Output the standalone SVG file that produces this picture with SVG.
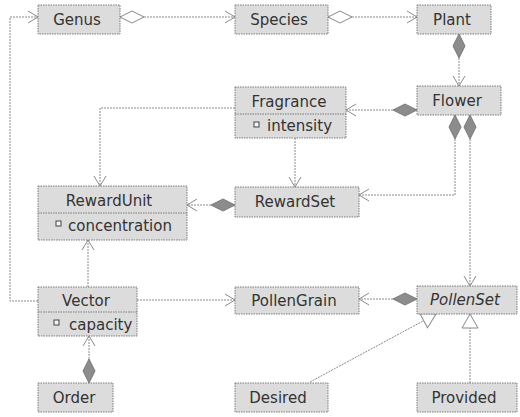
<svg xmlns="http://www.w3.org/2000/svg" width="520" height="417" viewBox="0 0 520 417">
<style>
.box{fill:#dcdcdc;stroke:#7a7a7a;stroke-width:1;stroke-dasharray:1.5 1}
.div{stroke:#7a7a7a;stroke-width:1;stroke-dasharray:1.5 1;fill:none}
.t{font-family:"DejaVu Sans",sans-serif;font-size:15px;fill:#333333;text-anchor:middle}
.a{font-family:"DejaVu Sans",sans-serif;font-size:15px;fill:#333333}
.it{font-style:italic}
.ic{fill:#f4f4f4;stroke:#444;stroke-width:1}
.c{fill:none;stroke:#8a8a8a;stroke-width:1;stroke-dasharray:2 1}
</style>
<defs>
<marker id="arr" markerUnits="userSpaceOnUse" markerWidth="14" markerHeight="16" viewBox="-12 -8 14 16" refX="0" refY="0" orient="auto">
<path d="M-10,-6 L0,0 L-10,6" fill="none" stroke="#8a8a8a" stroke-width="1"/>
</marker>
<marker id="fd" markerUnits="userSpaceOnUse" markerWidth="28" markerHeight="14" viewBox="-1 -7 28 14" refX="0" refY="0" orient="auto">
<path d="M0,0 L12,-6 L24,0 L12,6 Z" fill="#8c8c8c" stroke="#7a7a7a" stroke-width="1"/>
</marker>
<marker id="hd" markerUnits="userSpaceOnUse" markerWidth="28" markerHeight="14" viewBox="-1 -7 28 14" refX="0" refY="0" orient="auto">
<path d="M0,0 L12,-6 L24,0 L12,6 Z" fill="#ffffff" stroke="#8a8a8a" stroke-width="1"/>
</marker>
<marker id="tri" markerUnits="userSpaceOnUse" markerWidth="18" markerHeight="20" viewBox="-16 -9 18 20" refX="0" refY="0" orient="auto">
<path d="M-14,-8 L0,0 L-14,8 Z" fill="#ffffff" stroke="#8a8a8a" stroke-width="1"/>
</marker>
</defs>
<g id="connectors">
<path class="c" d="M38,301 H10 V17 H38" marker-end="url(#arr)"/>
<path class="c" d="M120,17 H235" marker-start="url(#hd)" marker-end="url(#arr)"/>
<path class="c" d="M328,17 H417" marker-start="url(#hd)" marker-end="url(#arr)"/>
<path class="c" d="M459,34 V86" marker-start="url(#fd)" marker-end="url(#arr)"/>
<path class="c" d="M417,110 H346" marker-start="url(#fd)" marker-end="url(#arr)"/>
<path class="c" d="M455,115 V195 H359" marker-start="url(#fd)" marker-end="url(#arr)"/>
<path class="c" d="M470,115 V286" marker-start="url(#fd)" marker-end="url(#arr)"/>
<path class="c" d="M235,108 H100 V186" marker-end="url(#arr)"/>
<path class="c" d="M295,138 V187" marker-end="url(#arr)"/>
<path class="c" d="M235,205 H187" marker-start="url(#fd)" marker-end="url(#arr)"/>
<path class="c" d="M88,287 V240" marker-end="url(#arr)"/>
<path class="c" d="M137,300 H235" marker-end="url(#arr)"/>
<path class="c" d="M89,383 V336" marker-start="url(#fd)" marker-end="url(#arr)"/>
<path class="c" d="M417,299 H359" marker-start="url(#fd)" marker-end="url(#arr)"/>
<path class="c" d="M310,382 L436,314" marker-end="url(#tri)"/>
<path class="c" d="M470,383 V314" marker-end="url(#tri)"/>
</g>
<g id="Genus"><rect class="box" x="38" y="5" width="82" height="29"/><text class="t" x="77" y="25">Genus</text></g>
<g id="Species"><rect class="box" x="235" y="5" width="93" height="29"/><text class="t" x="279" y="25">Species</text></g>
<g id="Plant"><rect class="box" x="417" y="5" width="74" height="29"/><text class="t" x="452" y="25">Plant</text></g>
<g id="Flower"><rect class="box" x="417" y="86" width="84" height="29"/><text class="t" x="457" y="106">Flower</text></g>
<g id="Fragrance"><rect class="box" x="235" y="87" width="111" height="51"/><line class="div" x1="235" y1="114" x2="346" y2="114"/><text class="t" x="289" y="107">Fragrance</text><rect class="ic" x="254" y="122" width="5" height="5"/><text class="a" x="267" y="131">intensity</text></g>
<g id="RewardSet"><rect class="box" x="235" y="187" width="124" height="30"/><text class="t" x="295" y="207">RewardSet</text></g>
<g id="RewardUnit"><rect class="box" x="38" y="186" width="149" height="54"/><line class="div" x1="38" y1="213" x2="187" y2="213"/><text class="t" x="109" y="206">RewardUnit</text><rect class="ic" x="56" y="221" width="5" height="5"/><text class="a" x="68" y="231">concentration</text></g>
<g id="Vector"><rect class="box" x="38" y="287" width="99" height="49"/><line class="div" x1="38" y1="312" x2="137" y2="312"/><text class="t" x="86" y="306">Vector</text><rect class="ic" x="54" y="320" width="5" height="5"/><text class="a" x="69" y="330">capacity</text></g>
<g id="PollenGrain"><rect class="box" x="235" y="287" width="124" height="27"/><text class="t" x="294" y="306">PollenGrain</text></g>
<g id="PollenSet"><rect class="box" x="417" y="286" width="100" height="28"/><text class="t it" x="465" y="305">PollenSet</text></g>
<g id="Order"><rect class="box" x="38" y="383" width="75" height="29"/><text class="t" x="74" y="403">Order</text></g>
<g id="Desired"><rect class="box" x="235" y="383" width="93" height="29"/><text class="t" x="278" y="403">Desired</text></g>
<g id="Provided"><rect class="box" x="417" y="383" width="100" height="29"/><text class="t" x="464" y="403">Provided</text></g>
</svg>
